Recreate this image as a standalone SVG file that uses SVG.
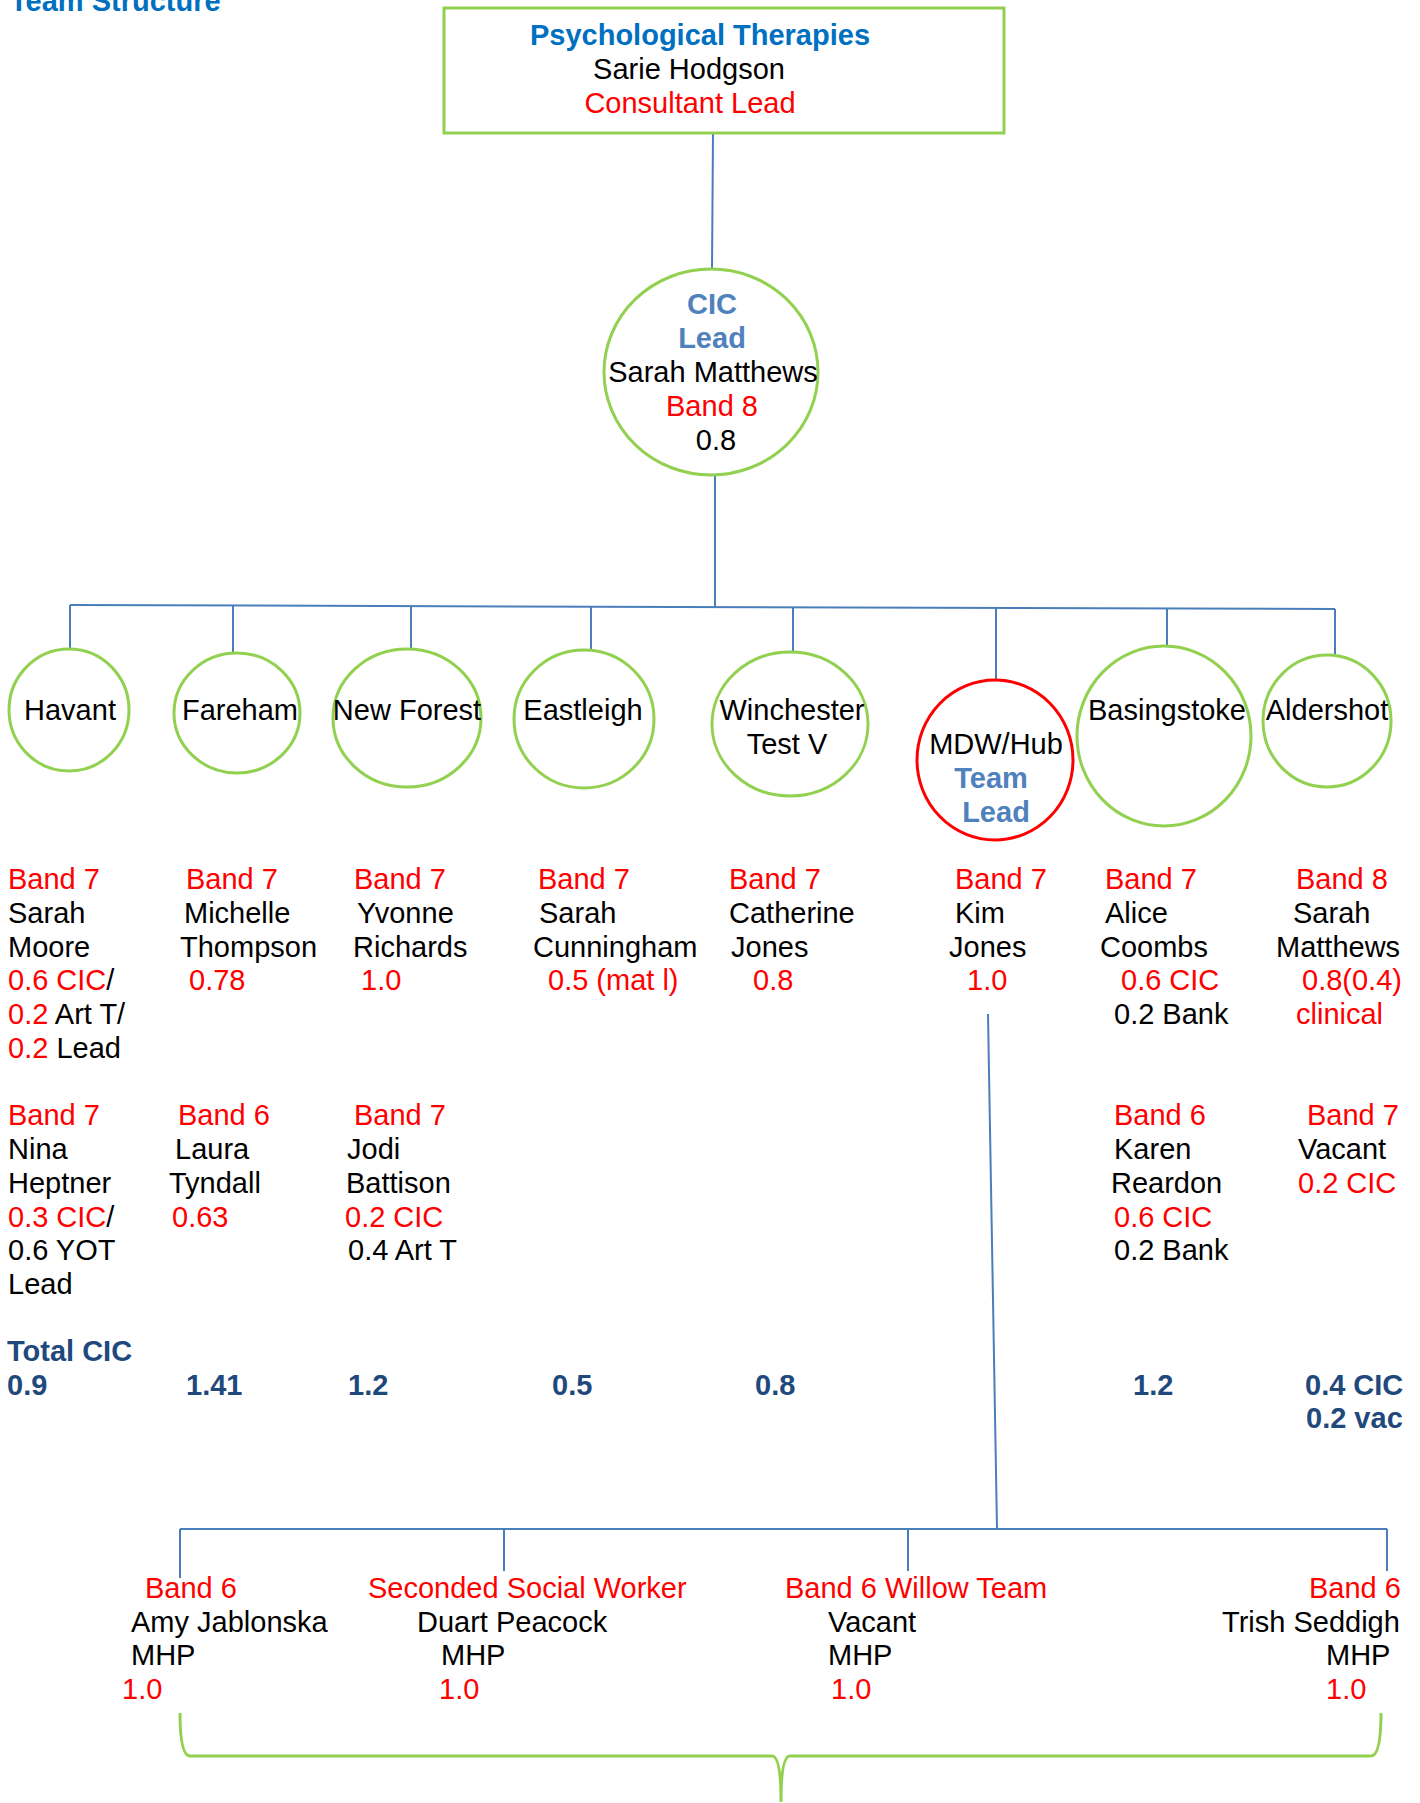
<svg xmlns="http://www.w3.org/2000/svg" width="1420" height="1803" viewBox="0 0 1420 1803">
  <style>
    text { font-family: "Liberation Sans", Arial, sans-serif; font-size: 29px; fill: #000; }
    .r { fill: #FF0000; }
    .k { fill: #000; }
    .title { fill: #0070C0; font-weight: bold; }
    .lead { fill: #4F81BD; font-weight: bold; }
    .tot { fill: #1F497D; font-weight: bold; }
    .mid { text-anchor: middle; }
    .site { fill: #fff; stroke: #92D050; stroke-width: 3; }
    .hub { fill: #fff; stroke: #FF0000; stroke-width: 3; }
    .conn { fill: none; stroke: #4A7EBB; stroke-width: 2; }
    .brace { fill: none; stroke: #92D050; stroke-width: 3; }
  </style>

  <text class="title" x="10" y="11" font-size="28">Team Structure</text>

  <!-- connectors -->
  <g id="connectors">
    <line class="conn" x1="713" y1="133" x2="712" y2="269"/>
    <line class="conn" x1="715" y1="475" x2="715" y2="606"/>
    <line class="conn" x1="70" y1="605" x2="1335" y2="609"/>
    <line class="conn" x1="70" y1="605" x2="70" y2="649"/>
    <line class="conn" x1="233" y1="606" x2="233" y2="658"/>
    <line class="conn" x1="411" y1="606" x2="411" y2="650"/>
    <line class="conn" x1="591" y1="607" x2="591" y2="650"/>
    <line class="conn" x1="793" y1="607" x2="793" y2="652"/>
    <line class="conn" x1="996" y1="608" x2="996" y2="681"/>
    <line class="conn" x1="1167" y1="608" x2="1167" y2="650"/>
    <line class="conn" x1="1335" y1="609" x2="1335" y2="655"/>
    <line class="conn" x1="988" y1="1014" x2="997" y2="1529"/>
    <line class="conn" x1="180" y1="1529" x2="1387" y2="1529"/>
    <line class="conn" x1="180" y1="1529" x2="180" y2="1578"/>
    <line class="conn" x1="504" y1="1529" x2="504" y2="1571"/>
    <line class="conn" x1="908" y1="1529" x2="908" y2="1571"/>
    <line class="conn" x1="1387" y1="1529" x2="1387" y2="1571"/>
  </g>

  <!-- head of service -->
  <g id="consultant-lead">
    <rect x="444" y="8" width="560" height="125" fill="#fff" stroke="#92D050" stroke-width="3"/>
    <text class="title mid" x="700" y="45">Psychological Therapies</text>
    <text class="mid" x="689" y="79">Sarie Hodgson</text>
    <text class="r mid" x="690" y="113">Consultant Lead</text>
  </g>

  <g id="cic-lead">
    <ellipse class="site" cx="711" cy="372" rx="107" ry="103"/>
    <text class="lead mid" x="712" y="314">CIC</text>
    <text class="lead mid" x="712" y="348">Lead</text>
    <text class="mid" x="713" y="382">Sarah Matthews</text>
    <text class="r mid" x="712" y="416">Band 8</text>
    <text class="mid" x="716" y="450">0.8</text>
  </g>

  <!-- locality teams -->
  <g id="havant">
    <ellipse class="site" cx="69" cy="710" rx="60" ry="61"/>
    <text class="mid" x="70" y="720">Havant</text>
  </g>
  <g id="fareham">
    <ellipse class="site" cx="237" cy="713" rx="63" ry="60"/>
    <text class="mid" x="240" y="720">Fareham</text>
  </g>
  <g id="new-forest">
    <ellipse class="site" cx="407" cy="718" rx="74" ry="69"/>
    <text class="mid" x="407" y="720">New Forest</text>
  </g>
  <g id="eastleigh">
    <ellipse class="site" cx="584" cy="719" rx="70" ry="69"/>
    <text class="mid" x="583" y="720">Eastleigh</text>
  </g>
  <g id="winchester">
    <ellipse class="site" cx="790" cy="724" rx="78" ry="72"/>
    <text class="mid" x="792" y="720">Winchester</text>
    <text class="mid" x="787" y="754">Test V</text>
  </g>
  <g id="mdw-hub">
    <ellipse class="hub" cx="995" cy="760" rx="78" ry="80"/>
    <text class="mid" x="996" y="754">MDW/Hub</text>
    <text class="lead mid" x="991" y="788">Team</text>
    <text class="lead mid" x="996" y="822">Lead</text>
  </g>
  <g id="basingstoke">
    <ellipse class="site" cx="1164" cy="736" rx="87" ry="90"/>
    <text class="mid" x="1167" y="720">Basingstoke</text>
  </g>
  <g id="aldershot">
    <ellipse class="site" cx="1327" cy="721" rx="64" ry="66"/>
    <text class="mid" x="1327" y="720">Aldershot</text>
  </g>

  <!-- staff, first row -->
  <g id="havant-staff-1">
    <text class="r" x="8" y="889">Band 7</text>
    <text x="8" y="923">Sarah</text>
    <text x="8" y="957">Moore</text>
    <text x="8" y="990"><tspan class="r">0.6 CIC</tspan>/</text>
    <text x="8" y="1024"><tspan class="r">0.2</tspan> Art T/</text>
    <text x="8" y="1058"><tspan class="r">0.2</tspan> Lead</text>
  </g>
  <g id="fareham-staff-1">
    <text class="r" x="186" y="889">Band 7</text>
    <text x="184" y="923">Michelle</text>
    <text x="180" y="957">Thompson</text>
    <text class="r" x="189" y="990">0.78</text>
  </g>
  <g id="new-forest-staff-1">
    <text class="r" x="354" y="889">Band 7</text>
    <text x="357" y="923">Yvonne</text>
    <text x="353" y="957">Richards</text>
    <text class="r" x="361" y="990">1.0</text>
  </g>
  <g id="eastleigh-staff-1">
    <text class="r" x="538" y="889">Band 7</text>
    <text x="539" y="923">Sarah</text>
    <text x="533" y="957">Cunningham</text>
    <text class="r" x="548" y="990">0.5 (mat l)</text>
  </g>
  <g id="winchester-staff-1">
    <text class="r" x="729" y="889">Band 7</text>
    <text x="729" y="923">Catherine</text>
    <text x="731" y="957">Jones</text>
    <text class="r" x="753" y="990">0.8</text>
  </g>
  <g id="mdw-staff-1">
    <text class="r" x="955" y="889">Band 7</text>
    <text x="955" y="923">Kim</text>
    <text x="949" y="957">Jones</text>
    <text class="r" x="967" y="990">1.0</text>
  </g>
  <g id="basingstoke-staff-1">
    <text class="r" x="1105" y="889">Band 7</text>
    <text x="1105" y="923">Alice</text>
    <text x="1100" y="957">Coombs</text>
    <text class="r" x="1121" y="990">0.6 CIC</text>
    <text x="1114" y="1024">0.2 Bank</text>
  </g>
  <g id="aldershot-staff-1">
    <text class="r" x="1296" y="889">Band 8</text>
    <text x="1293" y="923">Sarah</text>
    <text x="1276" y="957">Matthews</text>
    <text class="r" x="1302" y="990">0.8(0.4)</text>
    <text class="r" x="1296" y="1024">clinical</text>
  </g>

  <!-- staff, second row -->
  <g id="havant-staff-2">
    <text class="r" x="8" y="1125">Band 7</text>
    <text x="8" y="1159">Nina</text>
    <text x="8" y="1193">Heptner</text>
    <text x="8" y="1227"><tspan class="r">0.3 CIC</tspan>/</text>
    <text x="8" y="1260">0.6 YOT</text>
    <text x="8" y="1294">Lead</text>
  </g>
  <g id="fareham-staff-2">
    <text class="r" x="178" y="1125">Band 6</text>
    <text x="175" y="1159">Laura</text>
    <text x="169" y="1193">Tyndall</text>
    <text class="r" x="172" y="1227">0.63</text>
  </g>
  <g id="new-forest-staff-2">
    <text class="r" x="354" y="1125">Band 7</text>
    <text x="347" y="1159">Jodi</text>
    <text x="346" y="1193">Battison</text>
    <text class="r" x="345" y="1227">0.2 CIC</text>
    <text x="348" y="1260">0.4 Art T</text>
  </g>
  <g id="basingstoke-staff-2">
    <text class="r" x="1114" y="1125">Band 6</text>
    <text x="1114" y="1159">Karen</text>
    <text x="1111" y="1193">Reardon</text>
    <text class="r" x="1114" y="1227">0.6 CIC</text>
    <text x="1114" y="1260">0.2 Bank</text>
  </g>
  <g id="aldershot-staff-2">
    <text class="r" x="1307" y="1125">Band 7</text>
    <text x="1298" y="1159">Vacant</text>
    <text class="r" x="1298" y="1193">0.2 CIC</text>
  </g>

  <!-- CIC totals -->
  <g id="totals">
    <text class="tot" x="7" y="1361">Total CIC</text>
    <text class="tot" x="7" y="1395">0.9</text>
    <text class="tot" x="186" y="1395">1.41</text>
    <text class="tot" x="348" y="1395">1.2</text>
    <text class="tot" x="552" y="1395">0.5</text>
    <text class="tot" x="755" y="1395">0.8</text>
    <text class="tot" x="1133" y="1395">1.2</text>
    <text class="tot" x="1305" y="1395">0.4 CIC</text>
    <text class="tot" x="1306" y="1428">0.2 vac</text>
  </g>

  <!-- hub staff -->
  <g id="hub-mhp-1">
    <text class="r" x="145" y="1598">Band 6</text>
    <text x="131" y="1632">Amy Jablonska</text>
    <text x="131" y="1665">MHP</text>
    <text class="r" x="122" y="1699">1.0</text>
  </g>
  <g id="hub-mhp-2">
    <text class="r" x="368" y="1598">Seconded Social Worker</text>
    <text x="417" y="1632">Duart Peacock</text>
    <text x="441" y="1665">MHP</text>
    <text class="r" x="439" y="1699">1.0</text>
  </g>
  <g id="hub-mhp-3">
    <text class="r" x="785" y="1598">Band 6 Willow Team</text>
    <text x="828" y="1632">Vacant</text>
    <text x="828" y="1665">MHP</text>
    <text class="r" x="831" y="1699">1.0</text>
  </g>
  <g id="hub-mhp-4">
    <text class="r" x="1309" y="1598">Band 6</text>
    <text x="1222" y="1632">Trish Seddigh</text>
    <text x="1326" y="1665">MHP</text>
    <text class="r" x="1326" y="1699">1.0</text>
  </g>

  <!-- brace grouping the hub workers -->
  <path class="brace" d="M180,1713 Q180,1756 190,1756 L772,1756 Q781,1756 781,1802 Q781,1756 790,1756 L1371,1756 Q1381,1756 1381,1713"/>
</svg>
